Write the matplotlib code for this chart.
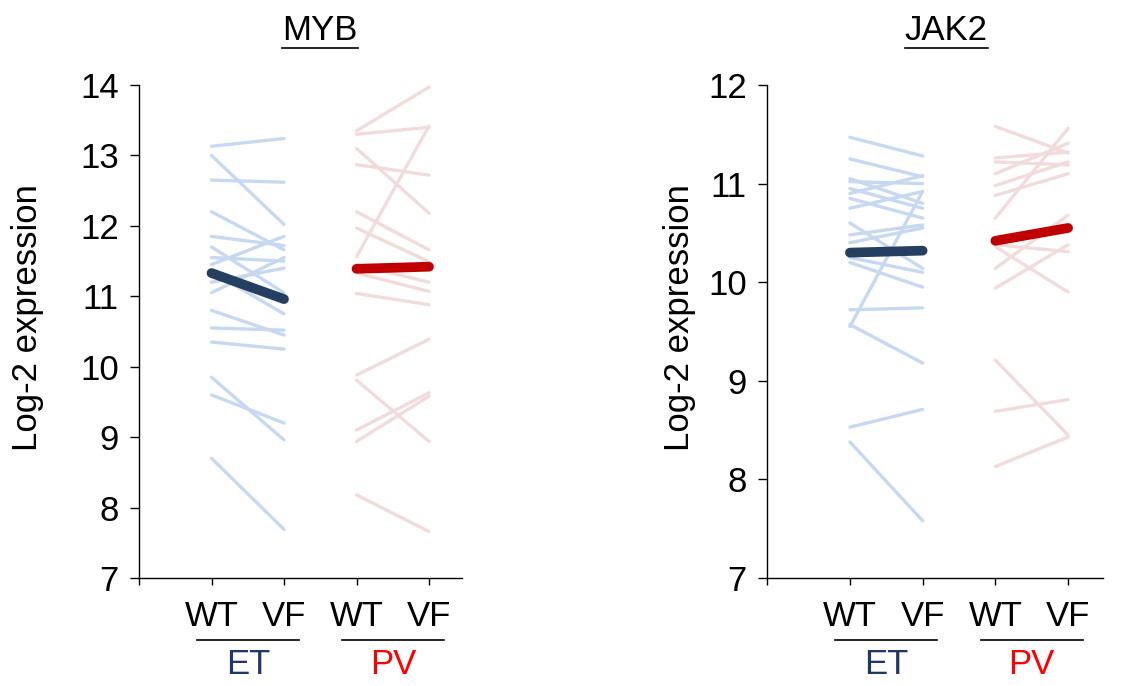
import numpy as np
import matplotlib
matplotlib.use("Agg")
import matplotlib.pyplot as plt
from matplotlib.transforms import blended_transform_factory
from matplotlib.lines import Line2D

plt.rcParams["font.family"] = ["Liberation Sans", "DejaVu Sans"]

# x positions: 1 = WT, 2 = VF for ET; 3 = WT, 4 = VF for PV
conditions = ["WT", "VF", "WT", "VF"]
groups = ["ET", "PV"]

# MYB, paired samples (WT -> VF)
myb_et_wt = [13.13, 13.00, 12.65, 12.20, 11.85, 11.70, 11.55, 11.45, 11.35, 11.20,
             11.05, 10.80, 10.55, 10.35, 9.85, 9.60, 8.70]
myb_et_vf = [13.24, 12.02, 12.62, 11.66, 11.72, 11.05, 11.50, 11.85, 10.75, 11.40,
             11.55, 10.45, 10.52, 10.25, 8.96, 9.20, 7.69]
myb_pv_wt = [13.35, 13.30, 11.56, 13.10, 12.87, 12.20, 11.97, 11.33, 11.04, 11.45,
             9.88, 9.81, 9.10, 8.94, 8.18]
myb_pv_vf = [13.97, 13.40, 13.42, 12.18, 12.72, 11.66, 11.49, 11.07, 10.88, 11.20,
             10.39, 8.94, 9.63, 9.58, 7.66]
myb_et_mean = [11.33, 10.96]
myb_pv_mean = [11.39, 11.42]

# JAK2, paired samples (WT -> VF)
jak2_et_wt = [11.47, 11.25, 11.05, 11.02, 10.95, 10.90, 10.85, 10.75, 10.60, 10.48,
              10.40, 10.25, 10.20, 9.55, 9.72, 9.57, 8.53, 8.38]
jak2_et_vf = [11.28, 11.07, 10.80, 11.00, 10.75, 11.08, 10.65, 10.92, 10.14, 10.58,
              10.55, 10.10, 9.95, 10.92, 9.74, 9.18, 8.71, 7.58]
jak2_pv_wt = [11.58, 10.65, 11.26, 11.22, 11.10, 10.98, 10.88, 10.38, 10.14, 9.94,
              10.36, 9.21, 8.69, 8.13]
jak2_pv_vf = [11.31, 11.56, 11.32, 11.19, 11.41, 11.22, 11.10, 10.31, 10.68, 10.38,
              9.90, 8.45, 8.81, 8.43]
jak2_et_mean = [10.30, 10.32]
jak2_pv_mean = [10.42, 10.55]

LIGHT_BLUE = "#c6d9f0"
LIGHT_RED = "#f2dcdb"
NAVY = "#243f60"
DARK_RED = "#c00000"
ET_TEXT = "#1f3864"
PV_TEXT = "#ff0000"
FS = 25

W, H = 1127, 686
fig = plt.figure(figsize=(W / 100, H / 100), dpi=100)


def px_rect(x0, x1, y_top, y_bot):
    return [x0 / W, (H - y_bot) / H, (x1 - x0) / W, (y_bot - y_top) / H]


def panel(rect, xlim, ylim, et_wt, et_vf, pv_wt, pv_vf, et_mean, pv_mean):
    ax = fig.add_axes(rect)
    for a, b in zip(et_wt, et_vf):
        ax.plot([1, 2], [a, b], color=LIGHT_BLUE, lw=2.4, solid_capstyle="round", zorder=2)
    for a, b in zip(pv_wt, pv_vf):
        ax.plot([3, 4], [a, b], color=LIGHT_RED, lw=2.4, solid_capstyle="round", zorder=2)
    ax.plot([1, 2], et_mean, color=NAVY, lw=7, solid_capstyle="round", zorder=3)
    ax.plot([3, 4], pv_mean, color=DARK_RED, lw=7, solid_capstyle="round", zorder=3)

    ax.set_xlim(*xlim)
    ax.set_ylim(*ylim)
    ax.set_yticks(np.arange(ylim[0], ylim[1] + 1))
    ax.set_xticks([xlim[0], 1, 2, 3, 4], [""] + conditions)
    for s in ["top", "right"]:
        ax.spines[s].set_visible(False)
    for s in ["left", "bottom"]:
        ax.spines[s].set_linewidth(1.0)
    ax.tick_params(axis="y", length=6.5, width=1, pad=8, labelsize=FS)
    ax.tick_params(axis="x", length=5, width=1, pad=11, labelsize=FS)

    # group brackets under the condition labels
    tr = blended_transform_factory(ax.transData, fig.transFigure)
    for i, (g, c) in enumerate(zip(groups, [ET_TEXT, PV_TEXT])):
        mid = 1.5 + 2 * i
        fig.add_artist(Line2D([mid - 0.7, mid + 0.7], [(H - 640) / H] * 2,
                              transform=tr, color="black", lw=1.2))
        fig.text(mid, (H - 665) / H, g, transform=tr, color=c, fontsize=FS,
                 ha="center", va="center")
    return ax


ax1 = panel(px_rect(139, 462, 85, 578), (0, 4.455), (7, 14),
            myb_et_wt, myb_et_vf, myb_pv_wt, myb_pv_vf, myb_et_mean, myb_pv_mean)
ax2 = panel(px_rect(767, 1103, 85, 578), (-0.14, 4.48), (7, 12),
            jak2_et_wt, jak2_et_vf, jak2_pv_wt, jak2_pv_vf, jak2_et_mean, jak2_pv_mean)

fig.text(28 / W, (H - 318) / H, "Log-2 expression", rotation=90, fontsize=FS,
         ha="center", va="center")
fig.text(680 / W, (H - 318) / H, "Log-2 expression", rotation=90, fontsize=FS,
         ha="center", va="center")

# underlined gene titles
titles = []
for name, xc in [("MYB", 320), ("JAK2", 946)]:
    titles.append(fig.text(xc / W, (H - 30) / H, name, fontsize=FS,
                           ha="center", va="center"))
fig.canvas.draw()
renderer = fig.canvas.get_renderer()
for t in titles:
    bb = t.get_window_extent(renderer).transformed(fig.transFigure.inverted())
    fig.add_artist(Line2D([bb.x0, bb.x1], [bb.y0 - 1 / H] * 2,
                          transform=fig.transFigure, color="black", lw=1.2))

fig.savefig("out.png", dpi=100)
